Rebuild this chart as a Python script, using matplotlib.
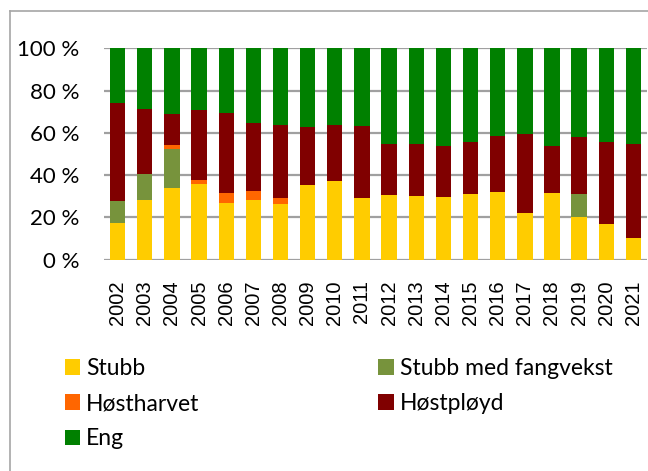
import matplotlib
matplotlib.use("Agg")
import matplotlib.pyplot as plt
from matplotlib.lines import Line2D
from matplotlib.patches import Patch
import numpy as np

plt.rcParams['font.family'] = ['Lato', 'DejaVu Sans']

years = [str(y) for y in range(2002, 2022)]

# andel av areal (%) per år
stubb = [17.4, 28.3, 33.8, 35.9, 26.7, 28.4, 26.4, 35.1, 37.1, 29.2,
         30.5, 30.3, 29.4, 31.1, 32.1, 22.1, 31.4, 20.2, 16.9, 10.4]
fangvekst = [10.1, 12.1, 18.6, 0, 0, 0, 0, 0, 0, 0,
             0, 0, 0, 0, 0, 0, 0, 10.9, 0, 0]
harvet = [0.3, 0, 1.8, 1.7, 4.7, 4.0, 2.5, 0, 0, 0,
          0, 0, 0, 0, 0, 0, 0, 0, 0, 0]
ployd = [46.1, 30.7, 14.5, 33.3, 37.8, 32.4, 34.9, 27.5, 26.4, 34.0,
         24.3, 24.5, 24.5, 24.7, 26.2, 37.5, 22.2, 27.0, 38.9, 44.4]
eng = [100 - a - b - c - d for a, b, c, d in zip(stubb, fangvekst, harvet, ployd)]

series = [
    ("Stubb", stubb, "#FFCC00"),
    ("Stubb med fangvekst", fangvekst, "#77933C"),
    ("Høstharvet", harvet, "#FF6600"),
    ("Høstpløyd", ployd, "#800000"),
    ("Eng", eng, "#008000"),
]

fig = plt.figure(figsize=(6.48, 4.71), dpi=100)
ax = fig.add_axes([0.1605, 0.449, 0.838, 0.4485])

x = np.arange(len(years))
bottom = np.zeros(len(years))
for name, vals, col in series:
    vals = np.array(vals)
    ax.bar(x, vals, width=0.565, bottom=bottom, color=col, zorder=3)
    bottom += vals

ax.set_xlim(-0.5, len(years) - 0.5)
ax.set_ylim(0, 100)
ax.set_yticks(range(0, 101, 20))
ax.set_yticklabels([f"{v} %" for v in range(0, 101, 20)], fontsize=16)
ax.set_xticks(x)
ax.set_xticklabels(years, rotation=90, fontsize=14.5, family='Liberation Sans')
ax.tick_params(axis='y', length=0, pad=18)
ax.tick_params(axis='x', length=0, pad=15)
for s in ax.spines.values():
    s.set_visible(False)
ax.yaxis.grid(True, color="#A0A0A0", linewidth=1.6, zorder=0)
ax.set_axisbelow(True)

# legende: to kolonner, fylt radvis
order = [0, 2, 4, 1, 3]
handles = [Patch(facecolor=series[i][2]) for i in order]
labels = [series[i][0] for i in order]
fig.legend(handles, labels, loc='upper left', bbox_to_anchor=(65 / 648, 1 - 358 / 471),
           ncol=2, frameon=False, fontsize=16.5, handlelength=0.66, handleheight=0.66,
           handletextpad=0.27, columnspacing=7.8, labelspacing=0.62,
           borderpad=0, borderaxespad=0)

# ramme rundt diagrammet
fig.add_artist(Line2D([9.5 / 648, 9.5 / 648], [0, 1 - 11 / 471], transform=fig.transFigure,
                      color="#A6A6A6", linewidth=1.2))
fig.add_artist(Line2D([9.5 / 648, 1], [1 - 11 / 471, 1 - 11 / 471], transform=fig.transFigure,
                      color="#A6A6A6", linewidth=1.2))

fig.savefig("out.png", dpi=100)
